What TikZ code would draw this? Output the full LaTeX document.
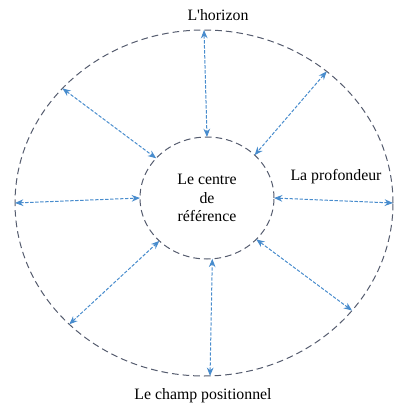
\documentclass[tikz,border=0pt]{standalone}
\usepackage{fontspec}
\setmainfont{Liberation Serif}
\usetikzlibrary{arrows.meta,shapes.geometric}
\definecolor{linkblue}{RGB}{72,140,205}
\definecolor{rimgray}{RGB}{85,92,110}

\begin{document}
\begin{tikzpicture}[x=0.6pt,y=-0.6pt,
  rim/.style={ellipse,draw=rimgray,dash pattern=on 4pt off 2.4pt,line width=0.6pt,inner sep=0pt,outer sep=0pt},
  link/.style={linkblue,line width=0.6pt,dash pattern=on 2pt off 1pt,{Stealth[length=5pt,width=4pt]}-{Stealth[length=5pt,width=4pt]}},
  lbl/.style={font=\fontsize{9.5}{11.2}\selectfont,align=center}]
  \useasboundingbox (0,0) rectangle (395,407);
  \node[rim,minimum width=226.8pt,minimum height=207.6pt] (outer) at (204,203) {};
  \node[rim,lbl,minimum width=80.4pt,minimum height=73.2pt] (inner) at (207,198) {Le centre\\de\\référence};
  \node[lbl] (horizon) at (218,15) {L\textquotesingle horizon};
  \node[lbl] (depth) at (336,177) {La profondeur};
  \node[lbl] (field) at (203,396) {Le champ positionnel};
  % liens entre le bord et le centre
  \draw[link] (outer.90) -- (inner.90);
  \draw[link] (outer.47) -- (inner.42);
  \draw[link] (outer.141) -- (inner.142);
  \draw[link] (outer.180) -- (inner.180);
  \draw[link] (outer.0) -- (inner.0);
  \draw[link] (outer.222) -- (inner.222);
  \draw[link] (outer.324) -- (inner.320);
  \draw[link] (outer.272) -- (inner.275);
\end{tikzpicture}
\end{document}
